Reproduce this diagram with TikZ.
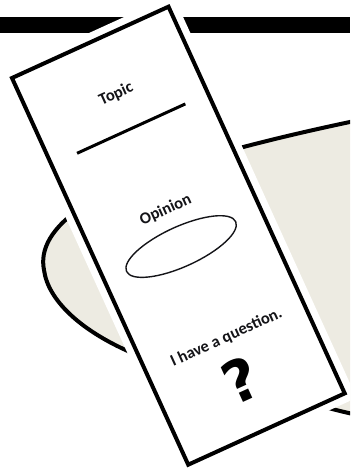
\documentclass[tikz,border=0pt]{standalone}
\usepackage{fontspec}
\usetikzlibrary{shapes.geometric}
\newfontfamily\cardfont{Carlito}
\newfontfamily\qfont{DejaVu Sans}
\definecolor{beige}{HTML}{EDEBE2}
\definecolor{ink}{HTML}{141418}
\tikzset{
  cardtext/.style={transform shape, inner sep=0pt, text=ink,
    font=\cardfont\bfseries\fontsize{16.5}{19}\selectfont},
  qmark/.style={transform shape, inner sep=0pt, text=black,
    font=\qfont\bfseries\fontsize{58}{64}\selectfont},
  outline/.style={draw=black, line width=4pt}
}
\begin{document}
\begin{tikzpicture}[x=1pt,y=-1pt,line join=round]
\useasboundingbox (0,0) rectangle (350,470);
\clip (0,0) rectangle (350,470);
\fill[white] (0,0) rectangle (350,470);
% top black bar
\fill[black] (0,17) rectangle (350,33);
% speech bubble
\filldraw[fill=beige, outline, line join=miter]
  (430,106) .. controls (330,125) and (160,160) .. (85,205)
  .. controls (50,228) and (40,250) .. (44,270)
  .. controls (48,300) and (80,330) .. (130,352)
  .. controls (200,372) and (270,393) .. (340,411)
  -- (430,432) -- cycle;
% card
\begin{scope}[shift={(12,78)}, rotate=24.5]
  \coordinate (c1) at (0,0);
  \coordinate (c2) at (172,425);
  \filldraw[draw=white, fill=white, line width=18pt] (c1) rectangle (c2);
  \draw[outline, line join=miter] (c1) rectangle (c2);
  \node[cardtext] (topic) at (88,58) {Topic};
  \coordinate (la) at (28,95.5);
  \coordinate (lb) at (147,95.5);
  \draw[line width=3pt, black] (la) -- (lb);
  \node[cardtext] (opinion) at (85,184) {Opinion};
  \node[draw=ink, line width=1.4pt, ellipse, inner sep=0pt, minimum width=120pt, minimum height=40pt, transform shape] (oval) at (84,223.5) {};
  \node[cardtext] (question) at (87.5,325) {I have a question.};
  \node[qmark] (qm) at (83,370) {?};
\end{scope}
\end{tikzpicture}
\end{document}
